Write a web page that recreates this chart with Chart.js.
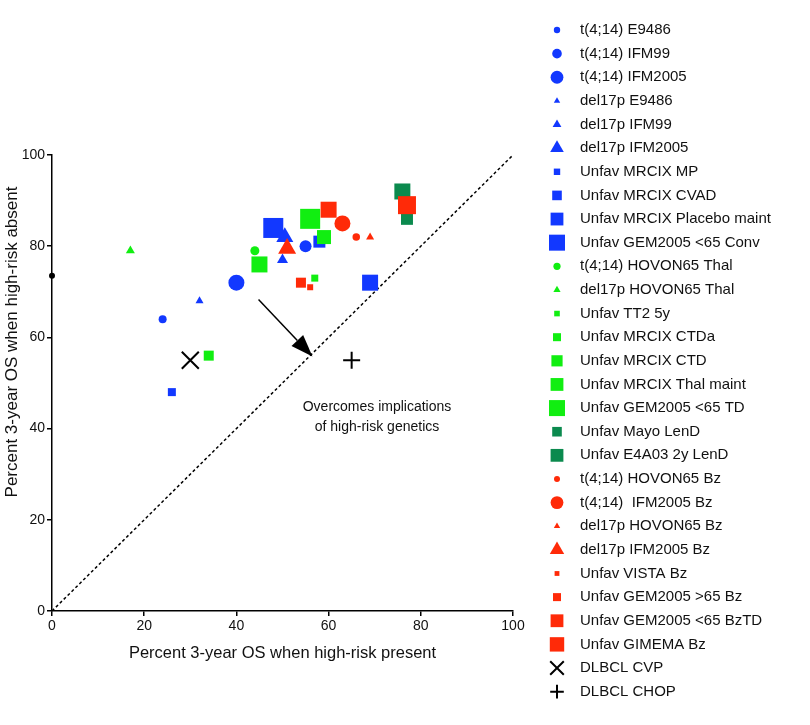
<!DOCTYPE html>
<html>
<head>
<meta charset="utf-8">
<script src="https://cdn.jsdelivr.net/npm/chart.js@4.4.1/dist/chart.umd.min.js"></script>
<style>
  html, body { margin: 0; padding: 0; background: #fff; }
  #wrap { width: 810px; height: 725px; position: relative; }
</style>
</head>
<body>
<div id="wrap"><canvas id="chart"></canvas></div>
<script>
// DATA
const seriesNames = [
  "t(4;14) E9486", "t(4;14) IFM99", "t(4;14) IFM2005",
  "del17p E9486", "del17p IFM99", "del17p IFM2005",
  "Unfav MRCIX MP", "Unfav MRCIX CVAD", "Unfav MRCIX Placebo maint", "Unfav GEM2005 <65 Conv",
  "t(4;14) HOVON65 Thal", "del17p HOVON65 Thal",
  "Unfav TT2 5y", "Unfav MRCIX CTDa", "Unfav MRCIX CTD", "Unfav MRCIX Thal maint", "Unfav GEM2005 <65 TD",
  "Unfav Mayo LenD", "Unfav E4A03 2y LenD",
  "t(4;14) HOVON65 Bz", "t(4;14)  IFM2005 Bz", "del17p HOVON65 Bz", "del17p IFM2005 Bz",
  "Unfav VISTA Bz", "Unfav GEM2005 >65 Bz", "Unfav GEM2005 <65 BzTD", "Unfav GIMEMA Bz",
  "DLBCL CVP", "DLBCL CHOP"
];
// percent 3-year OS when high-risk present (x)
const osPresent = [24, 55, 40, 32, 50, 50.5, 26, 58, 69, 48, 44, 17, 57, 34, 59, 45, 56, 77, 76, 66, 63, 69, 51, 56, 54, 60, 77, 30, 65];
// percent 3-year OS when high-risk absent (y)
const osAbsent = [64, 80, 72, 68, 77, 82, 48, 81, 72, 84, 79, 79, 73, 56, 82, 76, 86, 86, 92, 82, 85, 82, 79.5, 71, 72, 88, 89, 55, 55];
const lineX = [0, 100];
const lineY = [0, 100];
const axisDotX = [0];
const axisDotY = [73.5];
const tickValues = [0, 20, 40, 60, 80, 100];

// STYLE
const BLUE = "#1238ff", GREEN = "#11ee11", DKGREEN = "#0b8a4e", RED = "#ff2a08", BLACK = "#000000";
const markerColor = [
  BLUE, BLUE, BLUE, BLUE, BLUE, BLUE, BLUE, BLUE, BLUE, BLUE,
  GREEN, GREEN, GREEN, GREEN, GREEN, GREEN, GREEN,
  DKGREEN, DKGREEN,
  RED, RED, RED, RED, RED, RED, RED, RED,
  BLACK, BLACK
];
const markerShape = [
  "circle", "circle", "circle", "triangle", "triangle", "triangle",
  "rect", "rect", "rect", "rect",
  "circle", "triangle", "rect", "rect", "rect", "rect", "rect",
  "rect", "rect",
  "circle", "circle", "triangle", "triangle", "rect", "rect", "rect", "rect",
  "crossRot", "cross"
];
// visual width of each marker, px
const markerSize = [8, 12, 16, 8, 11, 17, 8, 12, 16, 20, 9, 9, 7, 10, 14, 16, 20, 12, 16, 7.5, 16, 8, 18, 6, 10, 16, 18, 17, 17];

const FONT = "'Liberation Sans', Arial, Helvetica, sans-serif";
const TEXT = "#111";

function radiusFor(shape, w) {
  if (shape === "circle") return w / 2;
  if (shape === "rect") return w / Math.SQRT2;
  if (shape === "triangle") return w / Math.sqrt(3);
  if (shape === "crossRot") return w / Math.SQRT2;
  return w / 2;
}

const datasets = seriesNames.map((name, i) => ({
  type: "scatter",
  label: name,
  data: [{ x: osPresent[i], y: osAbsent[i] }],
  pointStyle: markerShape[i],
  pointRadius: radiusFor(markerShape[i], markerSize[i]),
  pointHoverRadius: radiusFor(markerShape[i], markerSize[i]),
  backgroundColor: markerColor[i],
  borderColor: markerColor[i],
  borderWidth: markerShape[i].startsWith("cross") ? 2 : 0,
  order: seriesNames.length - i,
  clip: false
}));

datasets.push({
  type: "line",
  label: "_diag",
  data: lineX.map((x, i) => ({ x: x, y: lineY[i] })),
  borderColor: BLACK,
  borderWidth: 1.5,
  borderDash: [3, 2.5],
  pointRadius: 0,
  fill: false,
  order: 100
});
datasets.push({
  type: "scatter",
  label: "_dot",
  data: axisDotX.map((x, i) => ({ x: x, y: axisDotY[i] })),
  pointRadius: 3,
  backgroundColor: BLACK,
  borderWidth: 0,
  order: 101,
  clip: false
});

// arrow + note, in data units
const arrowFrom = [44.8, 68.3];
const arrowTo = [56.5, 55.8];
const noteLines = ["Overcomes implications", "of high-risk genetics"];

const overlay = {
  id: "overlay",
  afterDraw(chart) {
    const ctx = chart.ctx;
    const xs = chart.scales.x, ys = chart.scales.y;
    ctx.save();

    // arrow
    const x1 = xs.getPixelForValue(arrowFrom[0]), y1 = ys.getPixelForValue(arrowFrom[1]);
    const x2 = xs.getPixelForValue(arrowTo[0]), y2 = ys.getPixelForValue(arrowTo[1]);
    const ang = Math.atan2(y2 - y1, x2 - x1);
    const headLen = 22, headW = 8;
    const bx = x2 - Math.cos(ang) * headLen, by = y2 - Math.sin(ang) * headLen;
    ctx.strokeStyle = BLACK; ctx.lineWidth = 1.5;
    ctx.beginPath(); ctx.moveTo(x1, y1); ctx.lineTo(bx, by); ctx.stroke();
    ctx.fillStyle = BLACK;
    ctx.beginPath();
    ctx.moveTo(x2, y2);
    ctx.lineTo(bx + Math.sin(ang) * headW, by - Math.cos(ang) * headW);
    ctx.lineTo(bx - Math.sin(ang) * headW, by + Math.cos(ang) * headW);
    ctx.closePath(); ctx.fill();

    // note
    ctx.fillStyle = TEXT;
    ctx.font = "14px " + FONT;
    ctx.textAlign = "center"; ctx.textBaseline = "middle";
    const nx = xs.getPixelForValue(70.5);
    ctx.fillText(noteLines[0], nx, ys.getPixelForValue(44.8));
    ctx.fillText(noteLines[1], nx, ys.getPixelForValue(40.4));

    // axis titles
    ctx.font = "16.5px " + FONT;
    ctx.fillText("Percent 3-year OS when high-risk present", (chart.chartArea.left + chart.chartArea.right) / 2, 653);
    ctx.save();
    ctx.translate(12, 342);
    ctx.rotate(-Math.PI / 2);
    ctx.font = "17px " + FONT;
    ctx.fillText("Percent 3-year OS when high-risk absent", 0, 0);
    ctx.restore();

    // legend
    const legX = 557, textX = 580, top = 30, step = 23.63;
    ctx.font = "15px " + FONT;
    ctx.textAlign = "left";
    seriesNames.forEach((name, i) => {
      const y = top + i * step;
      const shape = markerShape[i];
      ctx.fillStyle = markerColor[i];
      ctx.strokeStyle = markerColor[i];
      ctx.lineWidth = shape.startsWith("cross") ? 2 : 0;
      Chart.helpers.drawPoint(ctx, {
        pointStyle: shape,
        rotation: 0,
        radius: radiusFor(shape, markerSize[i] * 0.8),
        borderWidth: shape.startsWith("cross") ? 2 : 0
      }, legX, y);
      ctx.fillStyle = TEXT;
      ctx.fillText(name, textX, y);
    });
    ctx.restore();
  }
};

new Chart(document.getElementById("chart"), {
  data: { datasets: datasets },
  options: {
    responsive: true,
    maintainAspectRatio: false,
    animation: false,
    layout: { padding: { left: 0, top: 155, right: 297, bottom: 0 } },
    plugins: { legend: { display: false }, tooltip: { enabled: false } },
    scales: {
      x: {
        type: "linear", min: 0, max: 100,
        afterFit: s => { s.height = 114; },
        afterBuildTicks: s => { s.ticks = tickValues.map(v => ({ value: v })); },
        ticks: { color: TEXT, font: { family: FONT, size: 14 }, padding: 2, maxRotation: 0 },
        grid: { drawOnChartArea: false, drawTicks: true, tickLength: 5, color: BLACK, lineWidth: 1.5 },
        border: { display: true, color: BLACK, width: 1.5 }
      },
      y: {
        type: "linear", min: 0, max: 100,
        afterFit: s => { s.width = 52; },
        afterBuildTicks: s => { s.ticks = tickValues.map(v => ({ value: v })); },
        ticks: { color: TEXT, font: { family: FONT, size: 14 }, padding: 2 },
        grid: { drawOnChartArea: false, drawTicks: true, tickLength: 5, color: BLACK, lineWidth: 1.5 },
        border: { display: true, color: BLACK, width: 1.5 }
      }
    }
  },
  plugins: [overlay]
});
</script>
</body>
</html>
